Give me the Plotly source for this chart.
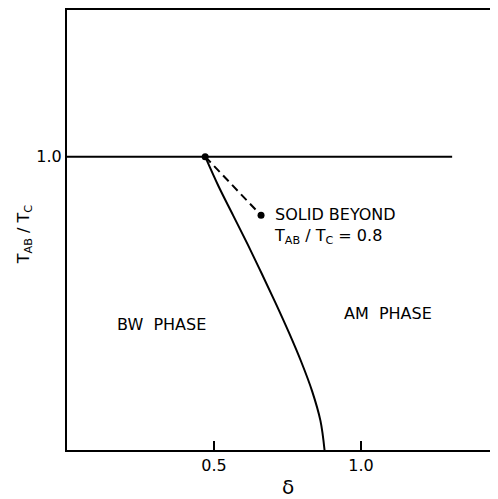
import plotly.graph_objects as go

# Phase boundary (solid curve)
boundary_t = [1.0, 0.9, 0.8, 0.7, 0.6, 0.5, 0.4, 0.3, 0.2, 0.1, 0.0]
boundary_delta = [0.47, 0.515, 0.565, 0.615, 0.663, 0.710, 0.755, 0.797, 0.834, 0.862, 0.876]

# Dashed segment from critical point to solidification point
dash_delta = [0.47, 0.66]
dash_t = [1.0, 0.8]

# Horizontal line T_AB/T_C = 1
hline_delta = [0.0, 1.31]
hline_t = [1.0, 1.0]

# Axis ticks
x_ticks = [0.5, 1.0]
x_tick_labels = ["0.5", "1.0"]
y_ticks = [1.0]
y_tick_labels = ["1.0"]

FONT = "DejaVu Sans, Liberation Sans, sans-serif"

fig = go.Figure()
fig.add_trace(go.Scatter(x=hline_delta, y=hline_t, mode="lines",
                         line=dict(color="black", width=2), showlegend=False))
fig.add_trace(go.Scatter(x=boundary_delta, y=boundary_t, mode="lines",
                         line=dict(color="black", width=2, shape="spline", smoothing=1.0),
                         showlegend=False))
fig.add_trace(go.Scatter(x=dash_delta, y=dash_t, mode="lines+markers",
                         line=dict(color="black", width=2, dash="8px,5px"),
                         marker=dict(color="black", size=7),
                         showlegend=False))

fig.add_annotation(x=0.697, y=0.765,
                   text="SOLID BEYOND<br>T<sub>AB</sub> / T<sub>C</sub> = 0.8",
                   showarrow=False, align="left",
                   xanchor="left", yanchor="middle", font=dict(size=16, color="black", family=FONT))
fig.add_annotation(x=0.323, y=0.429, text="BW  PHASE", showarrow=False,
                   font=dict(size=16, color="black", family=FONT))
fig.add_annotation(x=1.092, y=0.466, text="AM  PHASE", showarrow=False,
                   font=dict(size=16, color="black", family=FONT))

# Axis titles placed in paper coordinates
fig.add_annotation(xref="paper", yref="paper", x=0.513, y=-0.085, text="δ", showarrow=False,
                   xanchor="center", yanchor="middle", font=dict(size=20, color="black", family=FONT))
fig.add_annotation(xref="paper", yref="paper", x=-0.1, y=0.49,
                   text="T<sub>AB</sub> / T<sub>C</sub>", showarrow=False, textangle=-90,
                   xanchor="center", yanchor="middle", font=dict(size=16, color="black", family=FONT))

fig.update_layout(
    width=490, height=491,
    margin=dict(l=59, r=0, t=2, b=49),
    paper_bgcolor="white", plot_bgcolor="white",
    font=dict(family=FONT, size=16, color="black"),
    xaxis=dict(range=[0, 1.466], tickvals=x_ticks, ticktext=x_tick_labels,
               ticks="inside", ticklen=9, tickwidth=1.5, tickcolor="black",
               showline=True, linecolor="black", linewidth=2, mirror=True,
               showgrid=False, zeroline=False, automargin=False),
    yaxis=dict(range=[0, 1.5], tickvals=y_ticks, ticktext=y_tick_labels,
               ticks="", showline=True, linecolor="black", linewidth=2, mirror=False,
               showgrid=False, zeroline=False, automargin=False),
)

fig.write_html("out.html")
